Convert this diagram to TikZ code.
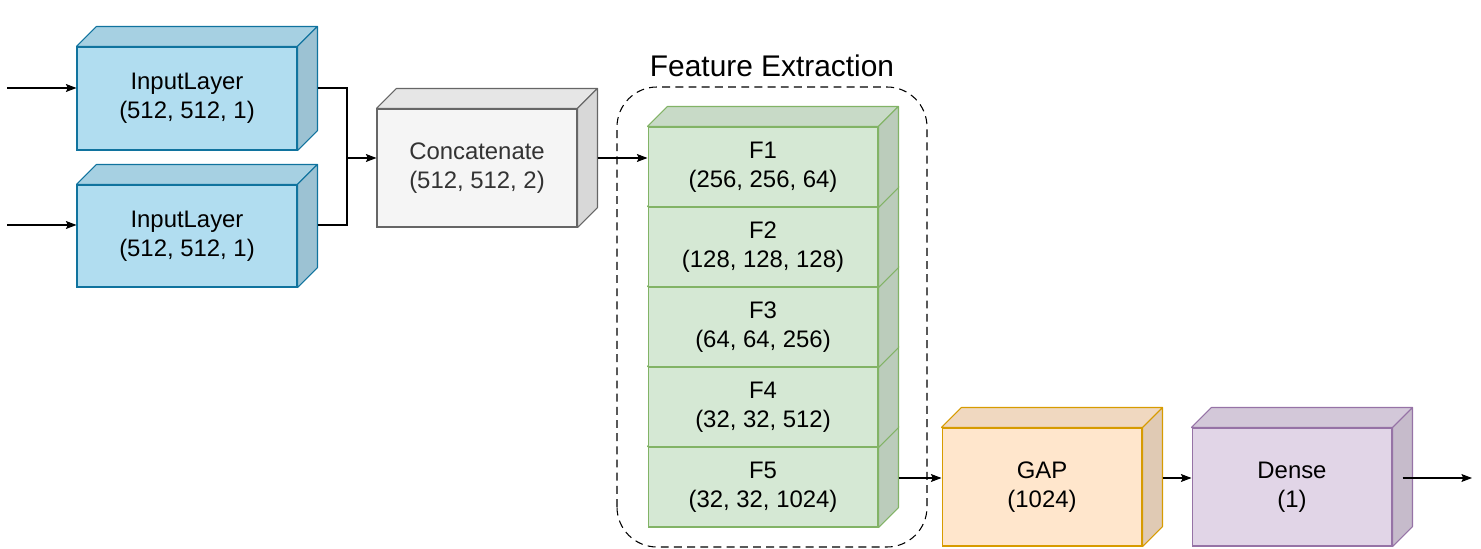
\documentclass[tikz,border=0pt]{standalone}
\usepackage{fontspec}
\setmainfont{Liberation Sans}
\usetikzlibrary{arrows.meta}

\definecolor{inputfill}{HTML}{B1DDF0}
\definecolor{inputline}{HTML}{10739E}
\definecolor{concatfill}{HTML}{F5F5F5}
\definecolor{concatline}{HTML}{666666}
\definecolor{concattext}{HTML}{333333}
\definecolor{featfill}{HTML}{D5E8D4}
\definecolor{featline}{HTML}{82B366}
\definecolor{gapfill}{HTML}{FFE6CC}
\definecolor{gapline}{HTML}{D79B00}
\definecolor{densefill}{HTML}{E1D5E7}
\definecolor{denseline}{HTML}{9673A6}

% name, position, width, height, fill, line, text
\newcommand\layercube[7]{
        \node [layer, minimum width=#3, minimum height=#4, fill=#5, draw=#6] (#1) at #2 {#7};
        \filldraw [fill=#5!94!black, draw=#6, line width=.6pt, line join=round]
          (#1.north west) -- ++(20,20) -- ([shift={(20,20)}]#1.north east) -- (#1.north east) -- cycle;
        \filldraw [fill=#5!88!black, draw=#6, line width=.6pt, line join=round]
          (#1.north east) -- ++(20,20) -- ([shift={(20,20)}]#1.south east) -- (#1.south east) -- cycle;
}

\begin{document}
\begin{tikzpicture}[x=0.02cm, y=0.02cm,
        layer/.style={rectangle, inner sep=0pt, line width=.6pt, align=center,
          font=\fontsize{13.6}{16.6}\selectfont},
        flow/.style={line width=.6pt, ->, >={Stealth[length=6pt, width=4.5pt, inset=1pt]}},
        wire/.style={line width=.6pt}
        ]
        \useasboundingbox (0,0) rectangle (1481,548);

        % inputs
        \layercube{inA}{(187,449.5)}{4.4cm}{2.06cm}{inputfill}{inputline}{InputLayer\\(512, 512, 1)}
        \layercube{inB}{(187,312)}{4.4cm}{2.04cm}{inputfill}{inputline}{InputLayer\\(512, 512, 1)}
        \layercube{concat}{(477,380)}{4cm}{2.36cm}{concatfill}{concatline}{\color{concattext}Concatenate\\\color{concattext}(512, 512, 2)}

        % feature extraction, drawn bottom to top
        \draw [line width=.6pt, dash pattern=on 4.5pt off 3pt, rounded corners=0.8cm] (617,1) rectangle (927,461);
        \node [name=fetitle, font=\fontsize{17}{20}\selectfont] at (772,482) {Feature Extraction};
        \layercube{fE}{(763,61)}{4.6cm}{1.6cm}{featfill}{featline}{F5\\(32, 32, 1024)}
        \layercube{fD}{(763,141)}{4.6cm}{1.6cm}{featfill}{featline}{F4\\(32, 32, 512)}
        \layercube{fC}{(763,221)}{4.6cm}{1.6cm}{featfill}{featline}{F3\\(64, 64, 256)}
        \layercube{fB}{(763,301)}{4.6cm}{1.6cm}{featfill}{featline}{F2\\(128, 128, 128)}
        \layercube{fA}{(763,381)}{4.6cm}{1.6cm}{featfill}{featline}{F1\\(256, 256, 64)}

        % head
        \layercube{gap}{(1042,61)}{4cm}{2.36cm}{gapfill}{gapline}{GAP\\(1024)}
        \layercube{dense}{(1292,61)}{4cm}{2.36cm}{densefill}{denseline}{Dense\\(1)}

        % connections
        \coordinate (srcA) at (7,460);
        \coordinate (srcB) at (7,323);
        \coordinate (joint) at (347,390);
        \coordinate (head) at (0,70);
        \coordinate (sink) at (1472,70);
        \draw [flow] (srcA) -- (inA.west |- srcA);
        \draw [flow] (srcB) -- (inB.west |- srcB);
        \draw [wire] (inA.east |- srcA) ++(20,0) -| (joint);
        \draw [wire] (inB.east |- srcB) ++(20,0) -| (joint);
        \draw [flow] (joint) -- (concat.west |- joint);
        \draw [flow] (concat.east |- joint) ++(20,0) -- (fA.west |- joint);
        \draw [flow] (fE.east |- head) ++(20,0) -- (gap.west |- head);
        \draw [flow] (gap.east |- head) ++(20,0) -- (dense.west |- head);
        \draw [flow] (dense.east |- head) ++(10,0) -- (sink);
\end{tikzpicture}
\end{document}
